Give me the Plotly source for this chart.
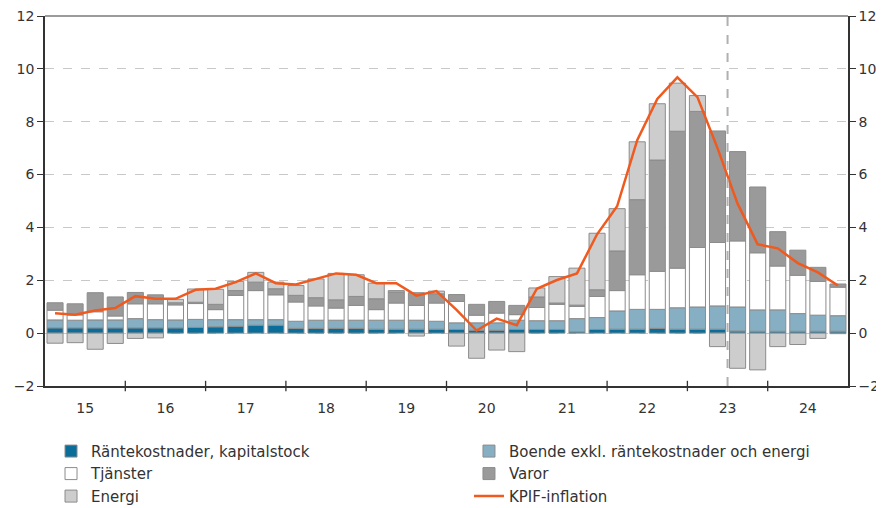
import plotly.graph_objects as go

# Quarterly data 2015Q1 .. 2024Q4 (percentage point contributions)
quarters = [f"{y}Q{q}" for y in range(2015, 2025) for q in range(1, 5)]
year_labels = ["15", "16", "17", "18", "19", "20", "21", "22", "23", "24"]

ranta = [0.20, 0.20, 0.20, 0.20, 0.20, 0.20, 0.20, 0.22, 0.24, 0.26,
         0.30, 0.30, 0.18, 0.18, 0.18, 0.18, 0.15, 0.15, 0.15, 0.15,
         0.14, 0.11, 0.11, 0.14, 0.14, 0.14, 0.05, 0.14, 0.15, 0.15,
         0.18, 0.15, 0.15, 0.15, 0.08, 0.07, 0.07, 0.07, 0.07, 0.07]
boende = [0.30, 0.29, 0.30, 0.30, 0.35, 0.31, 0.30, 0.30, 0.27, 0.25,
          0.21, 0.21, 0.27, 0.31, 0.31, 0.31, 0.34, 0.34, 0.34, 0.30,
          0.25, 0.28, 0.28, 0.35, 0.33, 0.33, 0.50, 0.45, 0.69, 0.75,
          0.72, 0.81, 0.84, 0.88, 0.91, 0.81, 0.81, 0.67, 0.61, 0.59]
tjanster = [0.37, 0.20, 0.31, 0.15, 0.56, 0.60, 0.57, 0.60, 0.38, 0.92,
            1.10, 0.94, 0.73, 0.54, 0.46, 0.56, 0.40, 0.65, 0.56, 0.69,
            0.81, 0.29, 0.37, 0.21, 0.50, 0.62, 0.46, 0.80, 0.77, 1.31,
            1.44, 1.50, 2.25, 2.40, 2.50, 2.16, 1.66, 1.45, 1.28, 1.08]
varor = [0.28, 0.42, 0.72, 0.72, 0.43, 0.34, 0.08, 0.05, 0.20, 0.18,
         0.32, 0.23, 0.25, 0.31, 0.31, 0.34, 0.41, 0.42, 0.48, 0.35,
         0.26, 0.41, 0.44, 0.35, 0.40, 0.05, 0.05, 0.25, 1.50, 2.84,
         4.21, 5.18, 5.15, 4.22, 3.38, 2.49, 1.30, 0.95, 0.53, 0.12]
energi = [-0.38, -0.36, -0.61, -0.39, -0.20, -0.18, 0.13, 0.50, 0.57, 0.35,
          0.37, 0.25, 0.37, 0.71, 1.00, 0.82, 0.59, 0.05, -0.11, 0.10,
          -0.49, -0.95, -0.64, -0.70, 0.34, 1.00, 1.40, 2.14, 1.60, 2.19,
          2.13, 1.82, 0.60, -0.51, -1.33, -1.39, -0.51, -0.43, -0.20, -0.02]
kpif = [0.75, 0.70, 0.86, 0.95, 1.40, 1.30, 1.30, 1.64, 1.68, 1.93,
        2.26, 1.89, 1.84, 2.05, 2.26, 2.21, 1.89, 1.89, 1.42, 1.59,
        0.88, 0.10, 0.55, 0.30, 1.68, 2.01, 2.26, 3.74, 4.80, 7.30,
        8.86, 9.68, 8.93, 7.00, 4.90, 3.36, 3.21, 2.65, 2.30, 1.80]

forecast_start = 34  # first forecast quarter index (2023Q3)

x = list(range(len(quarters)))
FONT = "DejaVu Sans"
edge = "#8c8c8c"

fig = go.Figure()
series = [
    ("Räntekostnader, kapitalstock", ranta, "#0b6e9a", "legend"),
    ("Boende exkl. räntekostnader och energi", boende, "#86afc3", "legend2"),
    ("Tjänster", tjanster, "#ffffff", "legend"),
    ("Varor", varor, "#9a9a9a", "legend2"),
    ("Energi", energi, "#cdcdcd", "legend"),
]
for name, vals, col, lg in series:
    fig.add_trace(go.Bar(
        x=x, y=vals, name=name, legend=lg,
        marker=dict(color=col, line=dict(color=edge, width=1)),
        hoverinfo="skip",
    ))
fig.add_trace(go.Scatter(
    x=x, y=kpif, name="KPIF-inflation", mode="lines", legend="legend2",
    yaxis="y2",
    line=dict(color="#f05a1e", width=2.5), hoverinfo="skip",
))

# crossing tick marks at year boundaries
shapes = []
for k in range(1, 10):
    xb = 4 * k - 0.5
    shapes.append(dict(type="line", xref="x", yref="paper", x0=xb, x1=xb,
                       y0=-0.014, y1=0.014, line=dict(color="#333333", width=1.3)))
# top border
shapes.append(dict(type="line", xref="paper", yref="paper", x0=0, x1=1, y0=1, y1=1,
                   line=dict(color="#7a7a7a", width=1.3)))
# forecast divider
shapes.append(dict(type="line", xref="x", yref="paper", x0=forecast_start - 0.5,
                   x1=forecast_start - 0.5, y0=0, y1=1,
                   line=dict(color="#b0b0b0", width=2, dash="dash"), layer="above"))

yt = [-2, 0, 2, 4, 6, 8, 10, 12]
legfont = dict(family=FONT, size=15, color="#333333")
fig.update_layout(
    width=876, height=500,
    margin=dict(l=37, r=36, t=8, b=122, autoexpand=False),
    paper_bgcolor="white", plot_bgcolor="white",
    barmode="relative", bargap=0.2,
    font=dict(family=FONT, size=14, color="#333333"),
    showlegend=True,
    legend=dict(orientation="v", x=0.0075, y=-0.132, xanchor="left", yanchor="top",
                font=legfont, traceorder="normal", bgcolor="rgba(0,0,0,0)"),
    legend2=dict(orientation="v", x=0.528, y=-0.132, xanchor="left", yanchor="top",
                 font=legfont, traceorder="normal", bgcolor="rgba(0,0,0,0)"),
    xaxis=dict(range=[-0.5, len(x) - 0.5], tickmode="array",
               tickvals=[4 * k + 1.5 for k in range(10)], ticktext=year_labels,
               ticks="", showline=True, linecolor="#333333", linewidth=1.5,
               showgrid=False, zeroline=False, ticklabelstandoff=8,
               automargin=False),
    yaxis=dict(range=[-2, 12], tickmode="array", tickvals=yt,
               ticks="outside", ticklen=6, tickcolor="#333333",
               showline=True, linecolor="#333333", linewidth=1.5,
               showgrid=True, gridcolor="#c8c8c8", griddash="dash", gridwidth=1,
               zeroline=False, automargin=False, ticklabeloverflow="allow"),
    yaxis2=dict(range=[-2, 12], tickmode="array", tickvals=yt, overlaying="y",
                side="right", anchor="x", ticks="outside", ticklen=6,
                tickcolor="#333333", showline=True, linecolor="#333333",
                linewidth=1.5, showgrid=False, zeroline=False, automargin=False,
                ticklabeloverflow="allow"),
    shapes=shapes,
)
fig.write_html("out.html")
